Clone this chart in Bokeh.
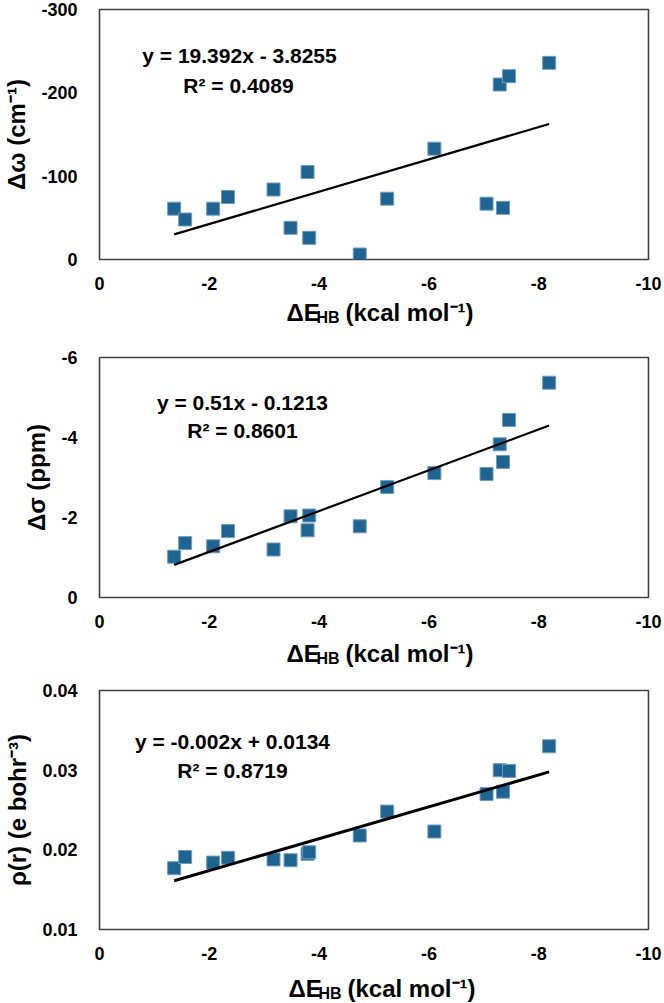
from bokeh.plotting import figure
from bokeh.models import Range1d, FixedTicker, Label
from bokeh.layouts import column
from bokeh.embed import file_html
from bokeh.resources import INLINE

# ---------------- data ----------------
dE_hb = [-1.36, -1.56, -2.07, -2.34, -3.17, -3.48, -3.79, -3.82,
         -4.74, -5.24, -6.10, -7.05, -7.29, -7.35, -7.46, -8.19]
d_omega = [-61, -48, -61, -75, -84, -38, -105, -26,
           -6, -73, -133, -67, -210, -62, -220, -236]
d_sigma = [-1.02, -1.36, -1.28, -1.66, -1.20, -2.03, -1.68, -2.05,
           -1.78, -2.76, -3.11, -3.09, -3.83, -3.39, -4.44, -5.37]
rho_r = [0.0177, 0.0191, 0.0184, 0.0190, 0.0188, 0.0187, 0.0195, 0.0197,
         0.0218, 0.0248, 0.0223, 0.0270, 0.0300, 0.0273, 0.0299, 0.0330]

x_ticks = [0, -2, -4, -6, -8, -10]
x_tick_labels = ["0", "-2", "-4", "-6", "-8", "-10"]
omega_ticks = [0, -100, -200, -300]
omega_tick_labels = ["0", "-100", "-200", "-300"]
sigma_ticks = [0, -2, -4, -6]
sigma_tick_labels = ["0", "-2", "-4", "-6"]
rho_ticks = [0.01, 0.02, 0.03, 0.04]
rho_tick_labels = ["0.01", "0.02", "0.03", "0.04"]

fit_slopes = [19.392, 0.51, -0.002]
fit_intercepts = [-3.8255, -0.1213, 0.0134]
fit_equations = ["y = 19.392x - 3.8255", "y = 0.51x - 0.1213", "y = -0.002x + 0.0134"]
fit_r2 = ["R² = 0.4089", "R² = 0.8601", "R² = 0.8719"]

y_titles = ["Δω (cm⁻¹)", "Δσ (ppm)", "ρ(r) (e bohr⁻³)"]
x_title_main = "ΔE"
x_title_sub = "HB"
x_title_rest = "(kcal mol⁻¹)"

# ---------------- style / layout ----------------
FONT = "Liberation Sans"
MARK_FILL = "#1F6391"
MARK_EDGE = "#6F9DBE"
W = 664
LEFT = 99
RIGHT = 16
FW = W - LEFT - RIGHT


def make_panel(ys, y_range, y_ticks, y_tick_labels, y_title, slope, intercept,
               eq, r2, H, top, h, eq_pos, line_w):
    p = figure(width=W, height=H, x_range=Range1d(0, -10),
               y_range=Range1d(*y_range), output_backend="svg",
               toolbar_location=None,
               min_border_left=LEFT, min_border_right=RIGHT,
               min_border_top=top, min_border_bottom=H - top - h)
    p.background_fill_color = "white"
    p.border_fill_color = "white"
    p.grid.visible = False
    p.outline_line_color = "#404040"
    p.outline_line_width = 1.6

    for ax in (p.xaxis[0], p.yaxis[0]):
        ax.axis_line_color = None
        ax.major_tick_line_color = None
        ax.minor_tick_line_color = None
        ax.major_tick_out = 0
        ax.major_tick_in = 0
        ax.major_label_text_font = FONT
        ax.major_label_text_font_style = "bold"
        ax.major_label_text_font_size = "18px"
        ax.major_label_text_color = "black"
    p.xaxis.ticker = FixedTicker(ticks=x_ticks)
    p.yaxis.ticker = FixedTicker(ticks=y_ticks)
    p.xaxis.major_label_overrides = dict(zip(x_ticks, x_tick_labels))
    p.yaxis.major_label_overrides = dict(zip(y_ticks, y_tick_labels))
    p.xaxis.major_label_standoff = 17
    p.yaxis.major_label_standoff = 22
    p.yaxis.axis_label = y_title
    p.yaxis.axis_label_text_font = FONT
    p.yaxis.axis_label_text_font_style = "bold"
    p.yaxis.axis_label_text_font_size = "24px"
    p.yaxis.axis_label_text_color = "black"
    p.yaxis.axis_label_standoff = 8

    def to_data(px, py):
        x = (px - LEFT) / FW * (-10.0)
        y = y_range[0] + (top + h - py) / h * (y_range[1] - y_range[0])
        return x, y

    p.scatter(x=dE_hb, y=ys, marker="square", size=13,
              fill_color=MARK_FILL, line_color=MARK_EDGE, line_width=1)

    fit_x = [min(dE_hb), max(dE_hb)]
    fit_y = [slope * xv + intercept for xv in fit_x]
    p.line(x=fit_x, y=fit_y, line_color="black", line_width=line_w)

    for txt, (cx, by) in zip([eq, r2], eq_pos):
        x, y = to_data(cx, by)
        p.add_layout(Label(x=x, y=y, text=txt, text_align="center",
                           text_baseline="alphabetic", text_font=FONT,
                           text_font_style="bold", text_font_size="21px",
                           text_color="black"))
    return p


def make_title_row(H, x0, base):
    # frame spans page pixels LEFT..W-RIGHT, so data x equals page x
    t = figure(width=W, height=H, x_range=Range1d(LEFT, W - RIGHT),
               y_range=Range1d(H, 0),
               output_backend="svg", toolbar_location=None,
               x_axis_location=None, y_axis_location=None,
               min_border_left=LEFT, min_border_right=RIGHT,
               min_border_top=0, min_border_bottom=0)
    t.outline_line_color = None
    t.grid.visible = False
    t.background_fill_color = "white"
    t.border_fill_color = "white"
    pieces = [(x_title_main, x0, base, "24px"),
              (x_title_sub, x0 + 30, base + 5, "16px"),
              (x_title_rest, x0 + 59, base, "24px")]
    for txt, px, py, fs in pieces:
        t.add_layout(Label(x=px, y=py, text=txt, text_align="left",
                           text_baseline="alphabetic", text_font=FONT,
                           text_font_style="bold", text_font_size=fs,
                           text_color="black"))
    return t


p1 = make_panel(d_omega, (0, -300), omega_ticks, omega_tick_labels, y_titles[0],
                fit_slopes[0], fit_intercepts[0], fit_equations[0], fit_r2[0],
                294, 9, 250, [(239, 55), (238, 85)], 2.2)
t1 = make_title_row(36, 286, 18)
p2 = make_panel(d_sigma, (0, -6), sigma_ticks, sigma_tick_labels, y_titles[1],
                fit_slopes[1], fit_intercepts[1], fit_equations[1], fit_r2[1],
                302, 27, 240, [(242, 72), (242, 100)], 2.2)
t2 = make_title_row(38, 286, 21)
p3 = make_panel(rho_r, (0.01, 0.04), rho_ticks, rho_tick_labels, y_titles[2],
                fit_slopes[2], fit_intercepts[2], fit_equations[2], fit_r2[2],
                295, 20, 239, [(232, 71), (232, 100)], 3.0)
t3 = make_title_row(38, 288, 23)

layout = column(p1, t1, p2, t2, p3, t3, spacing=0)
open("out.html", "w").write(file_html(layout, INLINE, title="Correlation plots"))
